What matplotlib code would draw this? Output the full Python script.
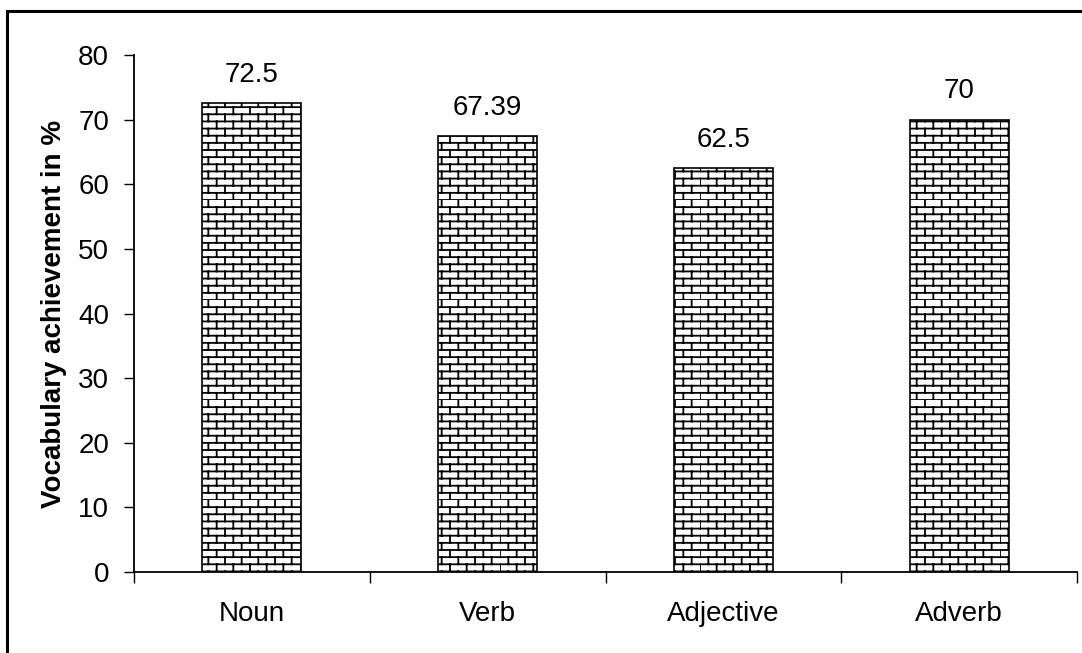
import matplotlib
matplotlib.use('Agg')
import matplotlib.pyplot as plt
import matplotlib.hatch as mhatch
import numpy as np
from matplotlib.patches import Rectangle
from matplotlib.path import Path

categories = ['Noun', 'Verb', 'Adjective', 'Adverb']
values = [72.5, 67.39, 62.5, 70]
value_labels = ['72.5', '67.39', '62.5', '70']


# brick-wall hatch (replaces the built-in hatch types, triggered by '+')
class BrickHatch(mhatch.HatchPatternBase):
    def __init__(self, hatch, density):
        n = hatch.count('+')
        self.rows = 14 * n
        self.cols = 6
        # each row: one horizontal line + cols vertical segments
        self.num_vertices = (self.rows * (1 + self.cols)) * 2 if n else 0

    def set_vertices_and_codes(self, vertices, codes):
        h = 1.0 / self.rows
        w = 1.0 / self.cols
        i = 0
        for r in range(self.rows):
            y0 = r * h
            vertices[i] = (0.0, y0)
            vertices[i + 1] = (1.0, y0)
            i += 2
            off = 0.0 if r % 2 == 0 else w / 2
            for c in range(self.cols):
                x = off + c * w
                vertices[i] = (x, y0)
                vertices[i + 1] = (x, y0 + h)
                i += 2
        codes[0::2] = Path.MOVETO
        codes[1::2] = Path.LINETO


mhatch._hatch_types = [BrickHatch]

plt.rcParams['font.family'] = ['Liberation Sans', 'DejaVu Sans']
plt.rcParams['hatch.linewidth'] = 1.3
plt.rcParams['hatch.color'] = '#222222'

fs = 20

fig = plt.figure(figsize=(10.82, 6.53), dpi=100)
ax = fig.add_axes([134 / 1082, 1 - 572 / 653, (1077 - 134) / 1082, (572 - 55) / 653])

x = np.arange(len(categories))
bars = ax.bar(x, values, width=0.42, color='white', edgecolor='black',
              linewidth=1.2, hatch='+')

for xi, v, lab in zip(x, values, value_labels):
    ax.annotate(lab, (xi, v), xytext=(0, 11), textcoords='offset points',
                ha='center', va='bottom', fontsize=fs)

ax.set_xlim(-0.5, 3.5)
ax.set_ylim(0, 80)
ax.set_yticks(np.arange(0, 81, 10))
ax.tick_params(axis='y', labelsize=fs, length=7, width=1, direction='out', pad=11)

ax.set_xticks(np.arange(-0.5, 3.6, 1.0))
ax.set_xticklabels([])
ax.tick_params(axis='x', which='major', direction='out', length=8, width=1)
ax.set_xticks(x, minor=True)
ax.set_xticklabels(categories, minor=True)
ax.tick_params(axis='x', which='minor', length=0, labelsize=fs, pad=21)

for s in ['top', 'right']:
    ax.spines[s].set_visible(False)
ax.spines['left'].set_linewidth(1.3)
ax.spines['bottom'].set_linewidth(1.3)

ax.set_ylabel('Vocabulary achievement in %', fontsize=fs, fontweight='bold', labelpad=8)

# outer border of the chart area
fig.patches.append(Rectangle((7 / 1082, -0.05), 1.1, 1 - 11 / 653 + 0.05,
                             transform=fig.transFigure, fill=False,
                             edgecolor='black', linewidth=2.2))

fig.savefig('out.png', dpi=100)
